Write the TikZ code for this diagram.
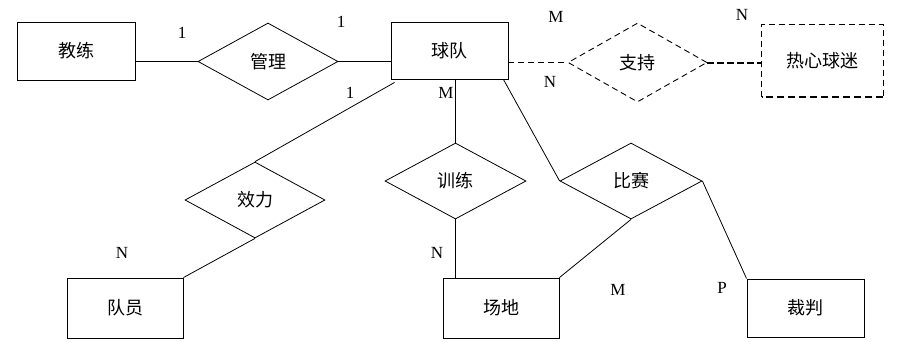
\documentclass[tikz,border=0pt]{standalone}
\usepackage{fontspec}
\setmainfont{Liberation Serif}
\newfontfamily\cjk{Noto Sans CJK SC}
\usetikzlibrary{shapes.geometric}
\begin{document}
\begin{tikzpicture}[x=1pt,y=-1pt,
  ent/.style={draw,line width=0.9pt,rectangle,inner sep=0pt,font=\cjk\fontsize{18}{20}\selectfont},
  rel/.style={draw,line width=0.8pt,diamond,inner sep=0pt,font=\cjk\fontsize{18}{20}\selectfont},
  lnk/.style={line width=0.8pt},
  dsh/.style={line width=0.9pt,dash pattern=on 6pt off 4pt},
  card/.style={font=\fontsize{17}{19}\selectfont,inner sep=0pt}]
\useasboundingbox (0,0) rectangle (899,341);
% entities
\node[ent,minimum width=118,minimum height=58] (jl) at (76,51) {教练};
\node[ent,minimum width=117,minimum height=57] (qd) at (449.5,50.5) {球队};
\node[ent,draw=none,minimum width=121,minimum height=72] (rx) at (822.5,61) {热心球迷};
\draw[dsh] (rx.south west) -- (rx.north west) -- (rx.north east) -- (rx.south east);
\draw[line width=2pt,dash pattern=on 7pt off 4pt] (rx.south east) -- (rx.south west);
\node[ent,minimum width=116,minimum height=60] (dy) at (125,308) {队员};
\node[ent,minimum width=116,minimum height=60] (cd) at (501,308) {场地};
\node[ent,minimum width=117,minimum height=58] (cp) at (805.5,308) {裁判};
% relationships
\node[rel,minimum width=140,minimum height=77] (gl) at (268,61.5) {管理};
\node[rel,dsh,minimum width=139,minimum height=79] (zc) at (637.5,62.5) {支持};
\node[rel,minimum width=140,minimum height=76] (xl2) at (255,200) {效力};
\node[rel,minimum width=141,minimum height=76] (xl) at (455.5,181) {训练};
\node[rel,minimum width=142,minimum height=76] (bs) at (631,181) {比赛};
% connectors
\draw[lnk] (jl.east |- gl.west) -- (gl.west);
\draw[lnk] (gl.east) -- (gl.east -| qd.west);
\draw[dsh] (qd.east |- zc.west) -- (zc.west);
\draw[line width=2pt,dash pattern=on 7pt off 3pt] (zc.east) -- (zc.east -| rx.west);
\draw[lnk] ([shift={(4,3)}]qd.south west) -- (xl2.north);
\draw[lnk] (xl2.south) -- (dy.north east);
\draw[lnk] (xl.north) -- (xl.north |- qd.south);
\draw[lnk] (xl.south) -- (xl.south |- cd.north);
\draw[lnk] ([xshift=-5]qd.south east) -- (bs.west);
\draw[lnk] (bs.south) -- (cd.north east);
\draw[lnk] (bs.east) -- (cp.north west);
% cardinalities
\node[card] (c1) at (182,33) {1};
\node[card] (c2) at (341,22) {1};
\node[card] (c3) at (350,93) {1};
\node[card] (c4) at (446,93) {M};
\node[card] (c5) at (556,17) {M};
\node[card] (c6) at (742,15) {N};
\node[card] (c7) at (550,82) {N};
\node[card] (c8) at (122,253) {N};
\node[card] (c9) at (437,253) {N};
\node[card] (c10) at (618,290) {M};
\node[card] (c11) at (722,288) {P};
\end{tikzpicture}
\end{document}
